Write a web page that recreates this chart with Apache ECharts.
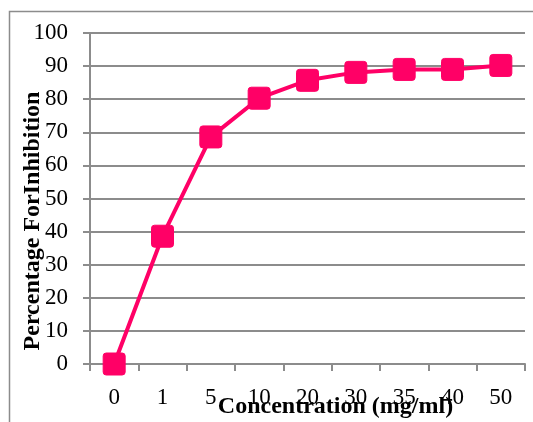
<!DOCTYPE html>
<html>
<head>
<meta charset="utf-8">
<script src="https://cdn.jsdelivr.net/npm/echarts@6/dist/echarts.min.js"></script>
<style>
html,body{margin:0;padding:0;background:#fff;}
#chart{width:533px;height:422px;}
</style>
</head>
<body>
<div id="chart"></div>
<script>
const categories = ['0', '1', '5', '10', '20', '30', '35', '40', '50'];
const inhibition = [0, 38.6, 68.6, 80.3, 85.7, 88.1, 89.0, 89.0, 90.2];
const yTicks = { min: 0, max: 100, interval: 10 };

const font = '"Liberation Serif", "Times New Roman", serif';
const chart = echarts.init(document.getElementById('chart'), null, { renderer: 'canvas' });
chart.setOption({
  backgroundColor: '#ffffff',
  animation: false,
  graphic: [{
    type: 'rect',
    shape: { x: 9.5, y: 11.5, width: 600, height: 500 },
    style: { fill: 'none', stroke: '#8c8c8c', lineWidth: 1.5 },
    silent: true
  }],
  grid: { left: 90, right: 8, top: 33, bottom: 58, outerBoundsMode: 'none', containLabel: false },
  xAxis: {
    type: 'category',
    data: categories,
    boundaryGap: true,
    name: 'Concentration (mg/ml)',
    nameLocation: 'middle',
    nameGap: 31,
    nameMoveOverlap: false,
    nameTextStyle: { fontFamily: font, fontWeight: 'bold', fontSize: 24, color: '#000', padding: [0, 0, 0, 56] },
    axisLine: { lineStyle: { color: '#8c8c8c', width: 2 } },
    axisTick: { show: true, length: 7, lineStyle: { color: '#8c8c8c', width: 2 } },
    axisLabel: { fontFamily: font, fontSize: 23, color: '#000', margin: 22 },
    splitLine: { show: false }
  },
  yAxis: {
    type: 'value',
    min: yTicks.min, max: yTicks.max, interval: yTicks.interval,
    name: 'Percentage ForInhibition',
    nameLocation: 'middle',
    nameGap: 45,
    nameMoveOverlap: false,
    nameTextStyle: { fontFamily: font, fontWeight: 'bold', fontSize: 24, color: '#000', padding: [0, 45, 0, 0] },
    axisLine: { show: true, lineStyle: { color: '#8c8c8c', width: 2 } },
    axisTick: { show: true, length: 7, lineStyle: { color: '#8c8c8c', width: 2 } },
    axisLabel: { fontFamily: font, fontSize: 23, color: '#000', margin: 22 },
    splitLine: { show: true, lineStyle: { color: '#8c8c8c', width: 2 } }
  },
  series: [{
    type: 'line',
    data: inhibition,
    symbol: 'path://M3,0 L19,0 Q22,0 22,3 L22,19 Q22,22 19,22 L3,22 Q0,22 0,19 L0,3 Q0,0 3,0 Z',
    symbolSize: 22,
    itemStyle: { color: '#ff0066', borderColor: '#ff0066', borderWidth: 1 },
    lineStyle: { color: '#ff0066', width: 4 }
  }]
});
</script>
</body>
</html>
